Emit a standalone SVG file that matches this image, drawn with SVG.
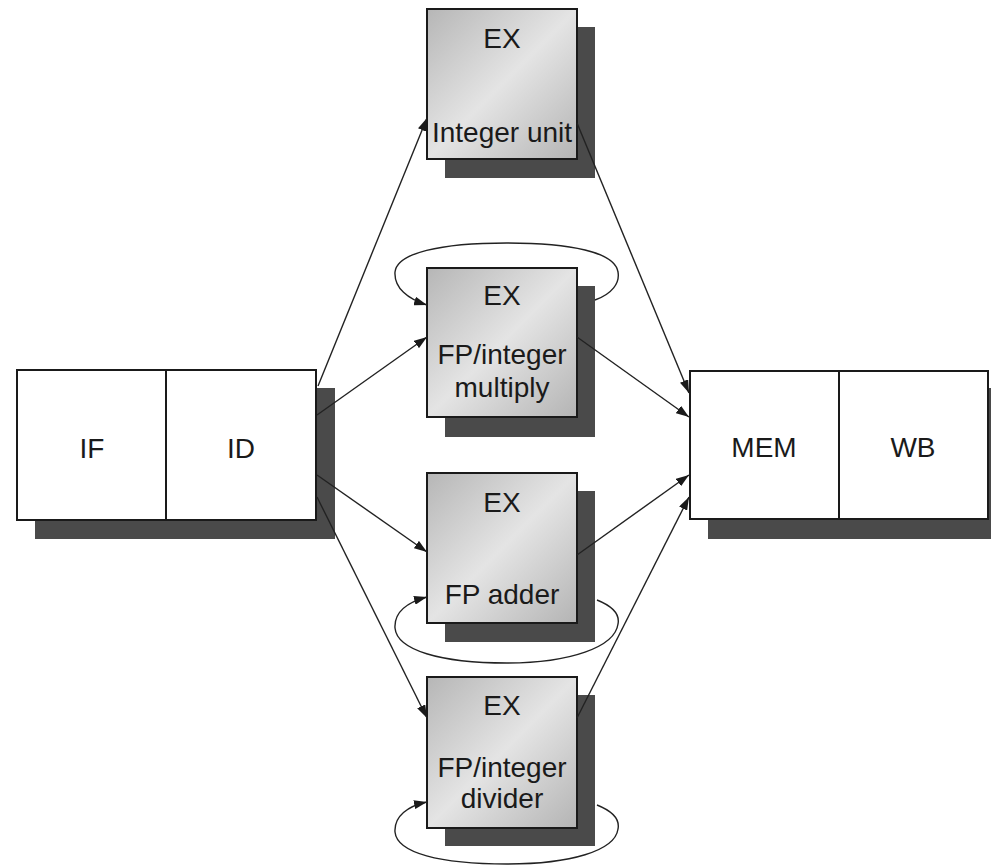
<svg xmlns="http://www.w3.org/2000/svg" width="991" height="867" viewBox="0 0 991 867">
<defs>
<linearGradient id="exgrad" x1="0" y1="0" x2="1" y2="1">
<stop offset="0" stop-color="#b6b6b6"/>
<stop offset="0.5" stop-color="#e4e4e4"/>
<stop offset="1" stop-color="#b4b4b4"/>
</linearGradient>
<marker id="arr" viewBox="0 0 13 9" refX="13" refY="4.5" markerWidth="13" markerHeight="9" markerUnits="userSpaceOnUse" orient="auto">
<path d="M0 0 L13 4.5 L0 9 z" fill="#1a1a1a"/>
</marker>
<style>
.shadow{fill:#4a4a4a;stroke:none}
.stage{fill:#ffffff;stroke:#1a1a1a;stroke-width:2}
.ex{fill:url(#exgrad);stroke:#1a1a1a;stroke-width:2}
.div{stroke:#1a1a1a;stroke-width:2}
text{font-family:"Liberation Sans",Arial,sans-serif;font-size:28px;fill:#1a1a1a;text-anchor:middle}
.conn{fill:none;stroke:#222;stroke-width:1.4;marker-end:url(#arr)}
</style>
</defs>
<rect width="991" height="867" fill="#ffffff"/>

<g id="if-id">
<rect class="shadow" x="35" y="388" width="300" height="151"/>
<rect class="stage" x="17" y="370" width="299" height="150"/>
<line class="div" x1="166" y1="370" x2="166" y2="520"/>
<text x="92" y="458">IF</text>
<text x="241" y="458">ID</text>
</g>

<g id="mem-wb">
<rect class="shadow" x="708" y="388" width="300" height="151"/>
<rect class="stage" x="690" y="371" width="298" height="148"/>
<line class="div" x1="839" y1="371" x2="839" y2="519"/>
<text x="764" y="457">MEM</text>
<text x="913" y="457">WB</text>
</g>

<g id="ex-integer">
<rect class="shadow" x="445" y="27" width="150" height="151"/>
<rect class="ex" x="427" y="9" width="150" height="150"/>
<text x="502" y="48">EX</text>
<text x="502" y="142">Integer unit</text>
</g>

<g id="ex-multiply">
<rect class="shadow" x="445" y="286" width="150" height="151"/>
<rect class="ex" x="427" y="268" width="150" height="149"/>
<text x="502" y="305">EX</text>
<text x="502" y="364">FP/integer</text>
<text x="502" y="397">multiply</text>
</g>

<g id="ex-adder">
<rect class="shadow" x="445" y="491" width="150" height="151"/>
<rect class="ex" x="427" y="473" width="150" height="150"/>
<text x="502" y="512">EX</text>
<text x="502" y="604">FP adder</text>
</g>

<g id="ex-divider">
<rect class="shadow" x="445" y="695" width="150" height="151"/>
<rect class="ex" x="427" y="677" width="150" height="151"/>
<text x="502" y="715">EX</text>
<text x="502" y="777">FP/integer</text>
<text x="502" y="808">divider</text>
</g>

<g id="connectors">
<path class="conn" d="M318 386 L427 118"/>
<path class="conn" d="M317 415 L427 337"/>
<path class="conn" d="M317 475 L427 552"/>
<path class="conn" d="M317 497 L427 718"/>
<path class="conn" d="M577 123 L689 393"/>
<path class="conn" d="M577 337 L689 417"/>
<path class="conn" d="M577 555 L689 475"/>
<path class="conn" d="M577 718 L689 497"/>
<path class="conn" d="M595 300 C612 294 620 283 618 272 C615 252 570 243 507 243 C440 243 397 253 395 272 C394 288 408 299 427 305"/>
<path class="conn" d="M597 600 C612 606 620 614 618 624 C615 647 570 663 507 663 C440 663 397 650 395 628 C394 612 408 602 427 597"/>
<path class="conn" d="M597 805 C612 811 620 819 618 829 C615 851 570 864 507 864 C440 864 397 853 395 832 C394 816 408 806 427 802"/>
</g>
</svg>
